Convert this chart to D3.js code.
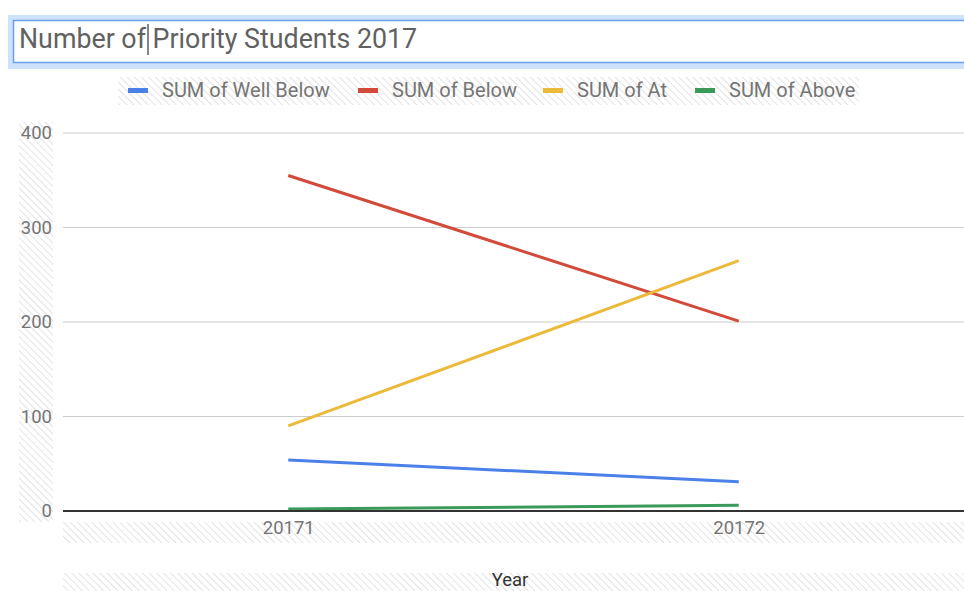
<!DOCTYPE html>
<html>
<head>
<meta charset="utf-8">
<script src="https://cdn.jsdelivr.net/npm/d3@7"></script>
<style>
  body { margin: 0; background: #fff; }
  svg { display: block; font-family: Roboto, "Noto Sans", sans-serif; }
</style>
</head>
<body>
<div id="chart"></div>
<script>
var svgWidth = 964;
var svgHeight = 591;

// data
var years = ["20171", "20172"];
var seriesNames = ["SUM of Well Below", "SUM of Below", "SUM of At", "SUM of Above"];
var wellBelow = [54, 31];
var below = [355, 201];
var at = [90, 265];
var above = [2, 6];
var yTicks = [0, 100, 200, 300, 400];
var colors = ["#4a80e8", "#d24a3a", "#ecba3a", "#3a9a5a"];

var seriesValues = [wellBelow, below, at, above];

var margin = { top: 133, right: 0, bottom: 80, left: 63 };
var height = 511 - margin.top;

var svg = d3.select("#chart")
  .append("svg")
  .attr("width", svgWidth)
  .attr("height", svgHeight);

// hatch pattern used by the editor for the text areas
var defs = svg.append("defs");
var pattern = defs.append("pattern")
  .attr("id", "hatch")
  .attr("patternUnits", "userSpaceOnUse")
  .attr("width", 5)
  .attr("height", 5)
  .attr("patternTransform", "rotate(-45)");
pattern.append("line")
  .attr("x1", 0).attr("y1", 0)
  .attr("x2", 0).attr("y2", 5)
  .attr("stroke", "#e3e3e3")
  .attr("stroke-width", 2);

function hatchBox(x, y, w, h) {
  svg.append("rect")
    .attr("x", x).attr("y", y)
    .attr("width", w).attr("height", h)
    .attr("fill", "url(#hatch)");
}

hatchBox(118, 77, 741, 28);   // legend
hatchBox(19, 122, 34, 400);   // y labels
hatchBox(63, 522, 901, 21);   // x labels
hatchBox(63, 573, 901, 18);   // x title

// title box (being edited)
svg.append("rect")
  .attr("x", 8).attr("y", 15)
  .attr("width", 970).attr("height", 54)
  .attr("fill", "#cfe2fb");
svg.append("rect")
  .attr("x", 13.5).attr("y", 20.5)
  .attr("width", 970).attr("height", 42)
  .attr("fill", "#fff")
  .attr("stroke", "#6aa0ec")
  .attr("stroke-width", 1.5);
svg.append("text")
  .attr("x", 19)
  .attr("y", 48)
  .attr("fill", "#616161")
  .style("font-size", "26.8px")
  .text("Number of Priority Students 2017");
svg.append("line")
  .attr("x1", 148).attr("x2", 148)
  .attr("y1", 24).attr("y2", 55)
  .attr("stroke", "#333")
  .attr("stroke-width", 1.2);

// legend
var legendX = [128, 358, 543, 695];
var legend = svg.append("g");
seriesNames.forEach(function(name, i) {
  legend.append("rect")
    .attr("x", legendX[i]).attr("y", 88)
    .attr("width", 20).attr("height", 5)
    .attr("fill", colors[i]);
  legend.append("text")
    .attr("x", legendX[i] + 34)
    .attr("y", 97)
    .attr("fill", "#757575")
    .style("font-size", "20px")
    .text(name);
});

var chartGroup = svg.append("g")
  .attr("transform", `translate(${margin.left}, ${margin.top})`);

var width = svgWidth - margin.left - margin.right;

var xScale = d3.scalePoint()
  .domain(years)
  .range([0, width])
  .padding(0.5);

var yScale = d3.scaleLinear()
  .domain([0, 400])
  .range([height, 0]);

// gridlines
chartGroup.append("g")
  .selectAll("line")
  .data(yTicks.filter(d => d > 0))
  .enter()
  .append("line")
  .attr("x1", 0).attr("x2", width)
  .attr("y1", d => yScale(d)).attr("y2", d => yScale(d))
  .attr("stroke", "#cccccc")
  .attr("stroke-width", 1.2);

// y axis labels
var leftAxis = d3.axisLeft(yScale).tickValues(yTicks).tickSize(0).tickPadding(11);
var yAxis = chartGroup.append("g").call(leftAxis);
yAxis.select(".domain").remove();
yAxis.selectAll("text")
  .attr("fill", "#757575")
  .style("font-size", "18.5px")
  .style("font-family", "Roboto, sans-serif");

// x axis labels
var bottomAxis = d3.axisBottom(xScale).tickSize(0).tickPadding(10);
var xAxis = chartGroup.append("g")
  .attr("transform", `translate(0, ${height})`)
  .call(bottomAxis);
xAxis.select(".domain").remove();
xAxis.selectAll("text")
  .attr("fill", "#757575")
  .style("font-size", "18.5px")
  .style("font-family", "Roboto, sans-serif");

// lines
var line = d3.line()
  .x((d, i) => xScale(years[i]))
  .y(d => yScale(d));

chartGroup.selectAll(".series")
  .data(seriesValues)
  .enter()
  .append("path")
  .attr("class", "series")
  .attr("d", d => line(d))
  .attr("fill", "none")
  .attr("stroke", (d, i) => colors[i])
  .attr("stroke-width", 3);

// baseline
chartGroup.append("line")
  .attr("x1", 0).attr("x2", width)
  .attr("y1", yScale(0)).attr("y2", yScale(0))
  .attr("stroke", "#333")
  .attr("stroke-width", 2);

// x axis title
svg.append("text")
  .attr("x", 510)
  .attr("y", 586)
  .attr("text-anchor", "middle")
  .attr("fill", "#333")
  .style("font-size", "18.5px")
  .text("Year");
</script>
</body>
</html>
